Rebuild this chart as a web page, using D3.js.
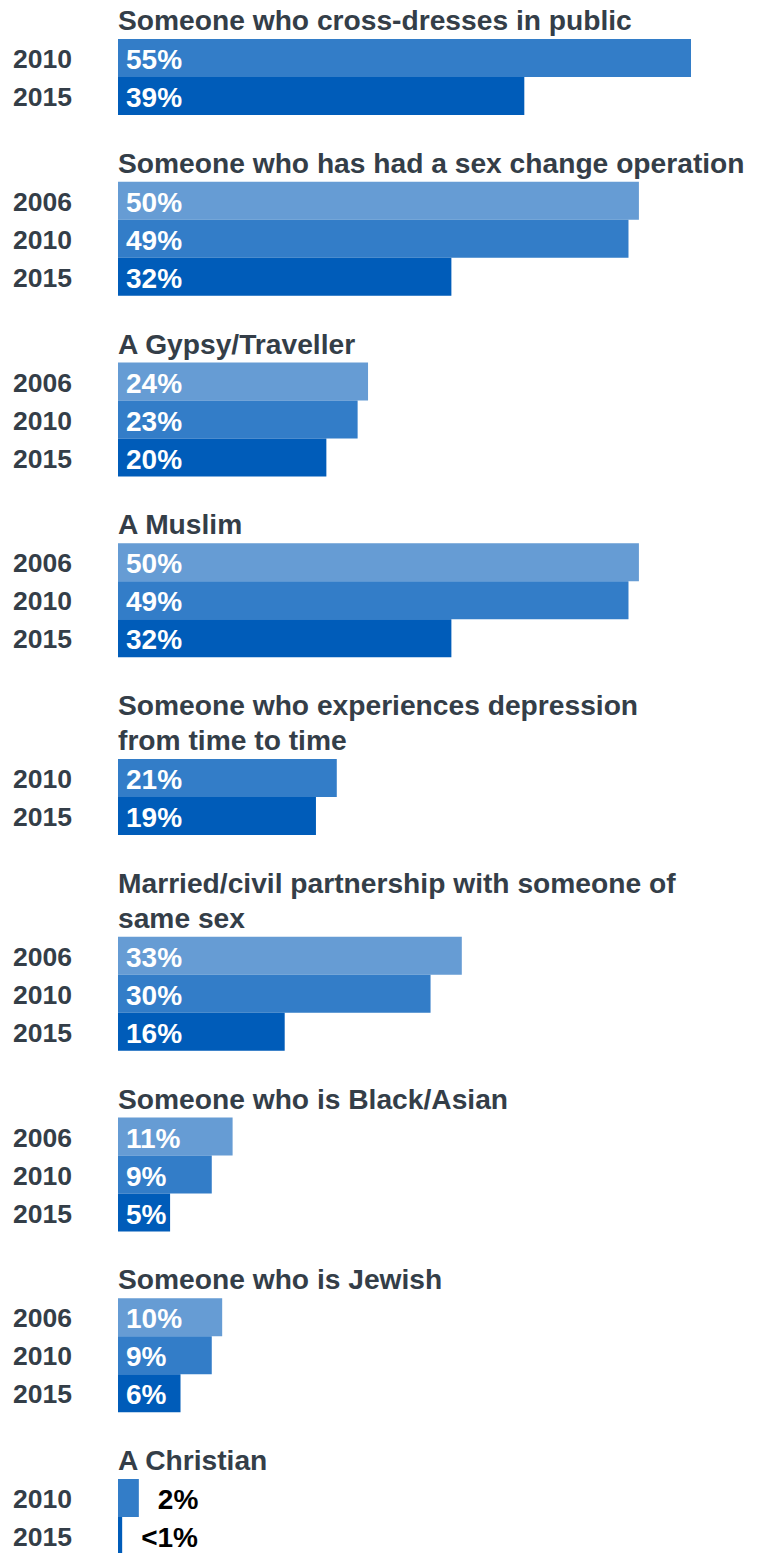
<!DOCTYPE html>
<html>
<head>
<meta charset="utf-8">
<script src="https://cdn.jsdelivr.net/npm/d3@7"></script>
<style>
  html, body { margin: 0; padding: 0; background: #fff; }
  svg { display: block; font-family: "Liberation Sans", Arial, Helvetica, sans-serif; }
</style>
</head>
<body>
<div id="chart"></div>
<script>
// Group titles (line breaks marked with "\n")
const titles = [
  "Someone who cross-dresses in public",
  "Someone who has had a sex change operation",
  "A Gypsy/Traveller",
  "A Muslim",
  "Someone who experiences depression\nfrom time to time",
  "Married/civil partnership with someone of\nsame sex",
  "Someone who is Black/Asian",
  "Someone who is Jewish",
  "A Christian"
];

// Survey years shown in each group
const years = [
  ["2010", "2015"],
  ["2006", "2010", "2015"],
  ["2006", "2010", "2015"],
  ["2006", "2010", "2015"],
  ["2010", "2015"],
  ["2006", "2010", "2015"],
  ["2006", "2010", "2015"],
  ["2006", "2010", "2015"],
  ["2010", "2015"]
];

// Percentages for each group, in the same order as the years
const values = [
  [55, 39],
  [50, 49, 32],
  [24, 23, 20],
  [50, 49, 32],
  [21, 19],
  [33, 30, 16],
  [11, 9, 5],
  [10, 9, 6],
  [2, 0.4]
];

const yearColors = { "2006": "#669cd4", "2010": "#337dc8", "2015": "#005cb9" };

const W = 761, H = 1553;
const barLeft = 118;
const barH = 38;
const groupGap = 66.75;
const lineH = 35;
const firstTop = 39;

const svg = d3.select("#chart").append("svg")
  .attr("width", W).attr("height", H);

const x = d3.scaleLinear().domain([0, 55]).range([barLeft, 691]);
const color = d3.scaleOrdinal().domain(Object.keys(yearColors)).range(Object.values(yearColors));

const fmt = v => v < 1 ? "<1%" : d3.format("d")(v) + "%";

// Lay out the groups one below another
let cursorY = firstTop;
const groups = titles.map((t, i) => {
  const lines = t.split("\n");
  if (i > 0) cursorY += groupGap + (lines.length - 1) * lineH;
  const y = d3.scaleBand().domain(years[i]).range([cursorY, cursorY + years[i].length * barH]).padding(0);
  const g = { lines, y, top: cursorY, i };
  cursorY += years[i].length * barH;
  return g;
});

groups.forEach(gr => {
  const g = svg.append("g");
  const rows = years[gr.i].map((yr, k) => ({ yr, v: values[gr.i][k] }));

  // title
  const title = g.append("text")
    .attr("x", barLeft)
    .attr("y", gr.top - 9 - (gr.lines.length - 1) * lineH)
    .attr("fill", "#343e48")
    .attr("font-size", 28.2)
    .attr("font-weight", "bold");
  gr.lines.forEach((ln, j) => {
    title.append("tspan").attr("x", barLeft).attr("dy", j === 0 ? 0 : lineH).text(ln);
  });

  // year labels
  g.selectAll(".yr").data(rows).join("text")
    .attr("class", "yr")
    .attr("x", 13)
    .attr("y", d => gr.y(d.yr) + gr.y.bandwidth() / 2 + 10)
    .attr("fill", "#343e48")
    .attr("font-size", 26.5)
    .attr("font-weight", "bold")
    .text(d => d.yr);

  // bars
  g.selectAll("rect").data(rows).join("rect")
    .attr("x", x(0))
    .attr("y", d => gr.y(d.yr))
    .attr("width", d => x(d.v) - x(0))
    .attr("height", gr.y.bandwidth())
    .attr("fill", d => color(d.yr));

  // value labels: inside the bar when there is room, otherwise just after it
  g.selectAll(".val").data(rows).join("text")
    .attr("class", "val")
    .attr("x", d => (x(d.v) - x(0) > 50) ? barLeft + 8 : x(d.v) + 19)
    .attr("y", d => gr.y(d.yr) + gr.y.bandwidth() / 2 + 11)
    .attr("fill", d => (x(d.v) - x(0) > 50) ? "#ffffff" : "#000000")
    .attr("font-size", 28)
    .attr("font-weight", "bold")
    .text(d => fmt(d.v));
});
</script>
</body>
</html>
